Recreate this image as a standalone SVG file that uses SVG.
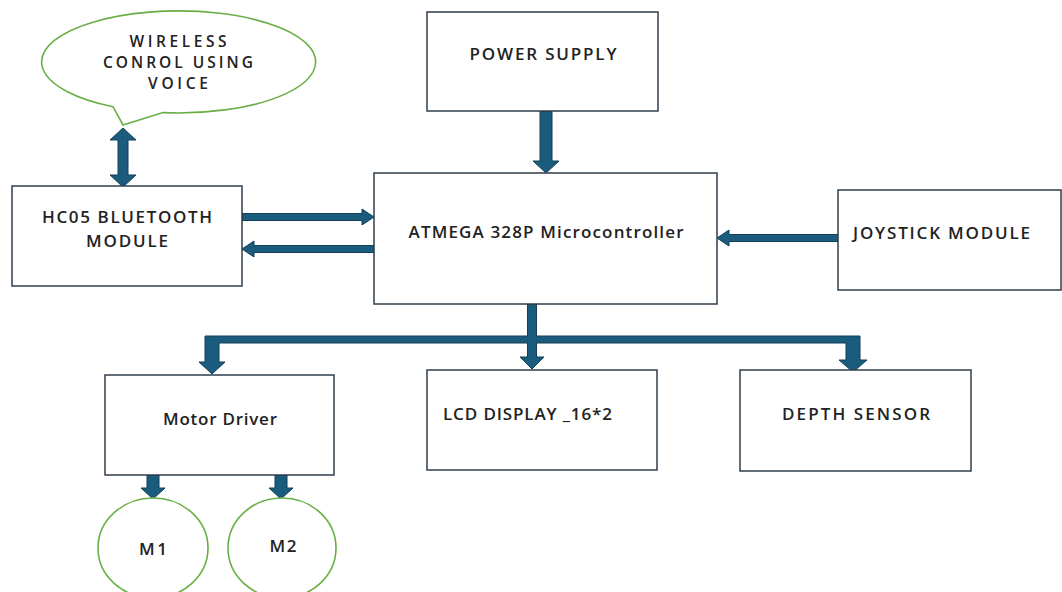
<svg xmlns="http://www.w3.org/2000/svg" width="1062" height="592" viewBox="0 0 1062 592">
<style>
.box{fill:#ffffff;stroke:#2f3e4c;stroke-width:1.5}
.green{fill:#ffffff;stroke:#6aae47;stroke-width:1.6}
.arrow{fill:#1b5c7e;stroke:#123f58;stroke-width:1}
text{font-family:"Open Sans","DejaVu Sans",Arial,sans-serif;font-size:17px;font-weight:600;fill:#222222}
.c{text-anchor:middle}
.s{font-size:15.5px}
</style>
<rect width="1062" height="592" fill="#ffffff"/>
<g id="connectors">
<polygon class="arrow" points="123,128 136,140 128,140 128,175 136,175 123,187 110,175 118,175 118,140 110,140"/>
<polygon class="arrow" points="540,111 552,111 552,161 559,161 546,173 533,161 540,161"/>
<polygon class="arrow" points="242,213.5 362,213.5 362,209 374,217 362,225 362,220.5 242,220.5"/>
<polygon class="arrow" points="374,245.5 254,245.5 254,241 242,249 254,257 254,252.5 374,252.5"/>
<polygon class="arrow" points="838,234.5 729,234.5 729,230 717,238 729,246 729,241.5 838,241.5"/>
<polygon class="arrow" points="527.5,304 536.5,304 536.5,336 860,336 860,360 867,360 853,372 839,360 846,360 846,343 536.5,343 536.5,357 544,357 532,369 520,357 527.5,357 527.5,343 219,343 219,362 225,362 212,374 199,362 205,362 205,336 527.5,336"/>
<polygon class="arrow" points="147,475 159,475 159,488 165,488 153,499 141,488 147,488"/>
<polygon class="arrow" points="275,475 287,475 287,488 293,488 281,499 269,488 275,488"/>
</g>
<g id="voice">
<path class="green" d="M113,106.7 A137,51 0 1 1 163,112.6 L123,125 Z"/>
<text class="c s" x="178" y="47" textLength="97">WIRELESS</text>
<text class="c s" x="178" y="68" textLength="150">CONROL USING</text>
<text class="c s" x="178" y="89" textLength="60">VOICE</text>
</g>
<g id="hc05">
<rect class="box" x="12" y="186" width="230" height="100"/>
<text class="c" x="127" y="223" textLength="170">HC05 BLUETOOTH</text>
<text class="c" x="127" y="247" textLength="82">MODULE</text>
</g>
<g id="power">
<rect class="box" x="427" y="12" width="231" height="99"/>
<text class="c" x="543" y="60" textLength="147">POWER SUPPLY</text>
</g>
<g id="atmega">
<rect class="box" x="374" y="173" width="343" height="131"/>
<text class="c" x="546" y="238" textLength="275">ATMEGA 328P Microcontroller</text>
</g>
<g id="joystick">
<rect class="box" x="838" y="190" width="223" height="100"/>
<text x="853" y="239" textLength="177">JOYSTICK MODULE</text>
</g>
<g id="motor">
<rect class="box" x="105" y="375" width="229" height="100"/>
<text class="c" x="220" y="425" textLength="114">Motor Driver</text>
</g>
<g id="lcd">
<rect class="box" x="427" y="370" width="230" height="100"/>
<text x="443" y="420" textLength="169">LCD DISPLAY _16*2</text>
</g>
<g id="depth">
<rect class="box" x="740" y="370" width="231" height="101"/>
<text class="c" x="856" y="420" textLength="148">DEPTH SENSOR</text>
</g>
<g id="m1">
<ellipse class="green" cx="153" cy="548" rx="55" ry="50"/>
<text class="c" x="153" y="555" textLength="28">M1</text>
</g>
<g id="m2">
<ellipse class="green" cx="282" cy="548" rx="54" ry="50"/>
<text class="c" x="283" y="552" textLength="27">M2</text>
</g>
</svg>
